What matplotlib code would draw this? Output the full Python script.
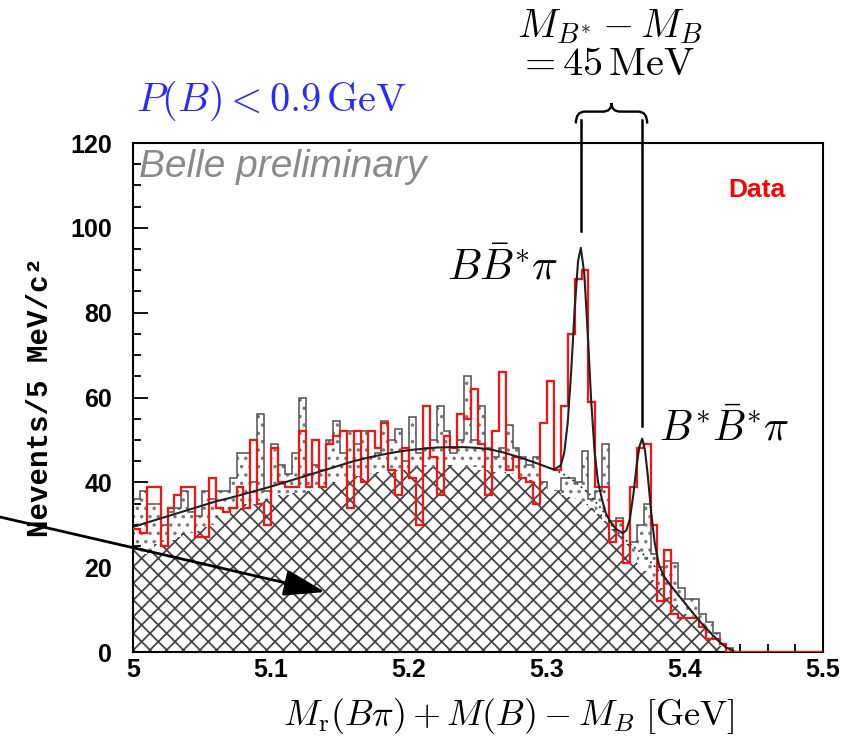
import numpy as np
import matplotlib
matplotlib.use("Agg")
import matplotlib.pyplot as plt
from matplotlib.path import Path
from matplotlib.patches import PathPatch

# ---------------- data ----------------
bin_lo, bin_hi, n_bins = 5.0, 5.5, 100

data_counts = [29, 28, 39, 39, 25, 34, 37, 39, 39, 27,
               27, 41, 34, 33, 34, 39, 34, 50, 35, 30,
               48, 40, 39, 39, 52, 39, 50, 39, 49, 51,
               52, 34, 52, 40, 52, 48, 54, 43, 37, 48,
               41, 30, 58, 46, 37, 51, 48, 56, 55, 62,
               49, 37, 52, 66, 43, 46, 41, 40, 35, 54,
               64, 43, 58, 75, 88, 90, 59, 39, 39, 26,
               31, 21, 39, 48, 49, 30, 12, 24, 9, 8,
               8, 8, 6, 3, 3, 2, 0, 0, 0, 0,
               0, 0, 0, 0, 0, 0, 0, 0, 0, 0]

gray_hist = [36, 38, 35, 35, 30, 33, 34, 38, 33, 32,
             38, 36, 38, 38, 41, 47, 47, 40, 56, 38,
             49, 44, 42, 47, 60, 42, 44, 43, 50, 54.5,
             47, 52, 49, 52, 46, 47, 54.5, 50, 52.5, 45,
             55.5, 47, 48, 50, 58, 52, 47, 50, 65, 50,
             58, 48, 46, 48, 53.5, 48, 46, 44, 46, 40,
             38, 38, 41, 41, 40, 47.5, 36, 38, 49, 31,
             31.5, 25, 26, 30, 35, 23, 20, 21.5, 21, 15,
             12.5, 12.5, 9, 7, 4.5, 2, 1, 0, 0, 0,
             0, 0, 0, 0, 0, 0, 0, 0, 0, 0]

hatched_hist = [24, 23, 24, 25.5, 26, 26.5, 27, 28, 28, 28.5,
                29.5, 30, 32, 32.5, 33, 34, 35, 35, 35.5, 36,
                36.5, 37, 37, 37.5, 37.5, 38, 38.5, 39, 39.5, 40,
                40.5, 41, 41.5, 42, 42, 42.5, 42.5, 43, 43, 43,
                43.5, 43.5, 43.5, 43.5, 44, 44, 44, 44, 43.5, 43.5,
                43, 43, 42.5, 42.5, 42, 42, 41, 40.5, 40, 39,
                38.5, 38, 37, 36.5, 36, 35, 34, 32.5, 31, 29,
                27.5, 25.5, 23, 21, 19, 17, 15, 13, 12, 10.5,
                9, 8, 6, 4.5, 3, 1.5, 0.5, 0, 0, 0,
                0, 0, 0, 0, 0, 0, 0, 0, 0, 0]

fit_x = [5.000, 5.010, 5.020, 5.030, 5.040, 5.050, 5.060, 5.070, 5.080, 5.090,
         5.100, 5.110, 5.120, 5.130, 5.140, 5.150, 5.160, 5.170, 5.180, 5.190,
         5.200, 5.210, 5.220, 5.230, 5.240, 5.250, 5.260, 5.270, 5.280, 5.290,
         5.300, 5.305, 5.310, 5.3125, 5.315, 5.3175, 5.320, 5.3225, 5.3245, 5.327,
         5.3295, 5.332, 5.3345, 5.337, 5.340, 5.3425, 5.345, 5.3475, 5.350, 5.355,
         5.3575, 5.360, 5.3625, 5.365, 5.367, 5.369, 5.371, 5.373, 5.3755, 5.378,
         5.381, 5.385, 5.390, 5.395, 5.400, 5.405, 5.410, 5.415, 5.420, 5.425,
         5.430, 5.435]
fit_y = [29.5, 30.5, 31.5, 32.5, 33.5, 34.5, 35.5, 36.3, 37.2, 38.1,
         39.0, 40.0, 41.0, 42.0, 43.0, 44.0, 45.0, 45.8, 46.5, 47.1,
         47.6, 47.9, 48.2, 48.3, 48.3, 48.1, 47.7, 46.9, 45.9, 44.8,
         43.6, 43.0, 44.0, 47.0, 54.0, 66.0, 80.5, 92.2, 95.3, 89.3,
         75.2, 59.3, 47.2, 40.0, 35.8, 32.8, 31.3, 30.0, 29.0, 28.0,
         28.7, 31.3, 36.9, 44.1, 48.5, 50.3, 47.6, 41.7, 32.9, 25.8,
         20.7, 17.7, 15.5, 13.5, 11.5, 9.5, 7.5, 5.7, 4.0, 2.4,
         1.0, 0.3]

bkg_x = [5.29, 5.30, 5.31, 5.32, 5.33, 5.34, 5.35, 5.36, 5.37, 5.38,
         5.39, 5.40, 5.41, 5.42, 5.43, 5.435]
bkg_y = [44.8, 43.6, 42.3, 40.2, 37.5, 33.5, 28.5, 25.5, 23.0, 19.5,
         15.5, 11.5, 7.5, 4.0, 1.0, 0.3]

x_ticks = [5.0, 5.1, 5.2, 5.3, 5.4, 5.5]
x_tick_labels = ["5", "5.1", "5.2", "5.3", "5.4", "5.5"]
y_ticks = [0, 20, 40, 60, 80, 100, 120]

# ---------------- figure ----------------
plt.rcParams['mathtext.fontset'] = 'cm'
plt.rcParams['hatch.linewidth'] = 1.3

W, H = 855, 738
AX_L, AX_R, AX_T, AX_B = 133, 823, 143, 652
fig = plt.figure(figsize=(W / 100, H / 100), dpi=100)
ax = fig.add_axes([AX_L / W, 1 - AX_B / H, (AX_R - AX_L) / W, (AX_B - AX_T) / H])

edges = np.linspace(bin_lo, bin_hi, n_bins + 1)

ax.stairs(gray_hist, edges, fill=True, facecolor='white', edgecolor='#7a7a7a',
          hatch='..', linewidth=0, zorder=1)
ax.stairs(gray_hist, edges, fill=False, edgecolor='#505050', linewidth=1.1,
          baseline=None, zorder=1.1)
ax.stairs(hatched_hist, edges, fill=True, facecolor='white', edgecolor='#474747',
          hatch='xx', linewidth=0, zorder=2)
ax.stairs(data_counts, edges, fill=False, edgecolor='#ff1010', linewidth=1.6,
          baseline=None, zorder=3)
ax.plot(bkg_x, bkg_y, linestyle=(0, (1, 2)), color='#333333', linewidth=1.3, zorder=4)
ax.plot(fit_x, fit_y, color='#202020', linewidth=1.5, zorder=5)

ax.set_xlim(bin_lo, bin_hi)
ax.set_ylim(0, 120)
ax.set_xticks(x_ticks)
ax.set_xticklabels(x_tick_labels)
ax.set_yticks(y_ticks)
ax.set_xticks(np.arange(5.0, 5.5001, 0.02), minor=True)
ax.set_yticks(np.arange(0, 120.01, 5), minor=True)
ax.tick_params(which='both', direction='in', top=False, right=False, width=1.3)
ax.tick_params(which='major', length=11)
ax.tick_params(which='minor', length=6)
ax.tick_params(axis='y', which='major', pad=15)
ax.tick_params(axis='x', which='major', pad=4)
for lab in ax.get_xticklabels() + ax.get_yticklabels():
    lab.set_fontfamily('Liberation Sans')
    lab.set_fontweight('bold')
    lab.set_fontsize(18)
for s in ax.spines.values():
    s.set_linewidth(1.5)

def fp(x, y):
    return (x / W, 1 - y / H)

# axis labels
fig.text(*fp(40, 397), 'Nevents/5 MeV/c\u00b2', rotation=90, family='Liberation Mono',
         weight='bold', fontsize=21, ha='center', va='center')
fig.text(*fp(509, 716), r'$M_{\rm r}(B\pi) + M(B) - M_B\ [\mathrm{GeV}]$',
         fontsize=26, ha='center', va='center')

# annotations
fig.text(*fp(272, 101), r'$P(B) < 0.9\,\mathrm{GeV}$', color='#2a2aff',
         fontsize=29, ha='center', va='center')
fig.text(*fp(139, 167), 'Belle preliminary', color='#8a8a8a', style='italic',
         family='Liberation Sans', fontsize=28, ha='left', va='center')
fig.text(*fp(757, 190), 'Data', color='#ff0000', weight='bold',
         family='Liberation Sans', fontsize=19, ha='center', va='center')
fig.text(*fp(503, 268), r'$B\bar{B}^{*}\pi$', fontsize=31, ha='center', va='center')
fig.text(*fp(724, 428), r'$B^{*}\bar{B}^{*}\pi$', fontsize=30, ha='center', va='center')
fig.text(*fp(517, 26), r'$M_{B^{*}} - M_B$', fontsize=29, ha='left', va='center')
fig.text(*fp(517, 64), r'$= 45\,\mathrm{MeV}$', fontsize=29, ha='left', va='center')

# peak marker lines + brace
fx = np.array(fit_x)
fy = np.array(fit_y)
m1 = (fx > 5.31) & (fx < 5.34)
m2 = (fx > 5.355) & (fx < 5.39)
p1x, p1y = fx[m1][np.argmax(fy[m1])], fy[m1].max()
p2x, p2y = fx[m2][np.argmax(fy[m2])], fy[m2].max()
ytop = 125.5
ax.plot([p1x, p1x], [p1y + 4, ytop], color='black', lw=1.8, clip_on=False, zorder=6)
ax.plot([p2x, p2x], [p2y + 3, ytop], color='black', lw=1.8, clip_on=False, zorder=6)

xl, xr = p1x - 0.0036, p2x + 0.0036
xm = 0.5 * (xl + xr)
yb, yc, yt = 124.6, 127.4, 129.4
d = 0.0065
verts = [(xl, yb), (xl, yc), (xl + d, yc),
         (xm - d, yc), (xm, yc), (xm, yt),
         (xm, yc), (xm + d, yc),
         (xr - d, yc), (xr, yc), (xr, yb)]
codes = [Path.MOVETO, Path.CURVE3, Path.CURVE3,
         Path.LINETO, Path.CURVE3, Path.CURVE3,
         Path.CURVE3, Path.CURVE3,
         Path.LINETO, Path.CURVE3, Path.CURVE3]
ax.add_patch(PathPatch(Path(verts, codes), fill=False, lw=1.7, color='black',
                       clip_on=False, zorder=6))

# arrow pointing into the hatched area
def to_data(px, py):
    return (bin_lo + (px - AX_L) / (AX_R - AX_L) * (bin_hi - bin_lo),
            (AX_B - py) / (AX_B - AX_T) * 120)

ax.annotate('', xy=to_data(325, 592), xytext=to_data(0, 517),
            arrowprops=dict(arrowstyle='-|>,head_length=1.7,head_width=0.55',
                            mutation_scale=15, lw=2, color='black',
                            shrinkA=0, shrinkB=0),
            annotation_clip=False, zorder=7)

fig.savefig('out.png', dpi=100)
